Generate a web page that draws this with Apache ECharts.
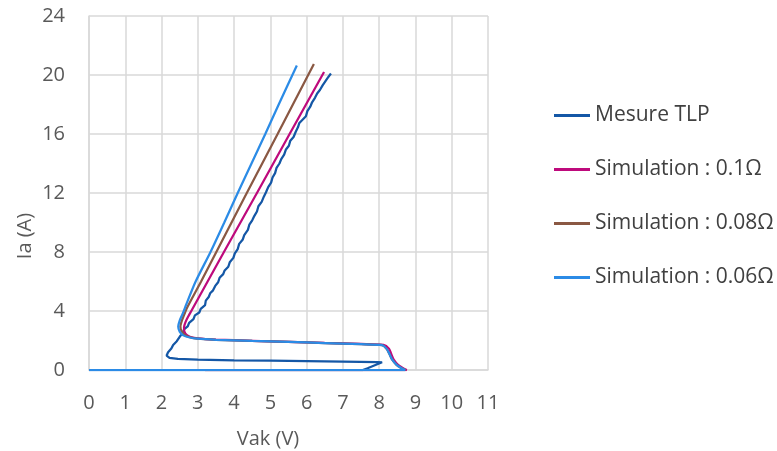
<!DOCTYPE html>
<html>
<head>
<meta charset="utf-8">
<script src="https://cdn.jsdelivr.net/npm/echarts@6/dist/echarts.min.js"></script>
<style>html,body{margin:0;padding:0;background:#fff;}#c{width:777px;height:451px;}</style>
</head>
<body>
<div id="c"></div>
<script>
const seriesNames = ['Mesure TLP', 'Simulation : 0.1Ω', 'Simulation : 0.08Ω', 'Simulation : 0.06Ω'];
const xTicks = [0, 11, 1];
const yTicks = [0, 24, 4];

const mesureTLP = [[0,0],[7.55,0],[7.68,0.12],[7.88,0.32],[8.08,0.52],[7.95,0.54],[7.0,0.57],[6.0,0.6],[5.0,0.63],[4.0,0.66],[3.0,0.71],[2.45,0.76],[2.22,0.82],[2.14,0.98],[2.18,1.2],[2.27,1.45],[2.32,1.7],[2.42,1.95],[2.5,2.25],[2.58,2.5],[2.62,2.75],[2.72,2.95],[2.76,3.2],[2.88,3.45],[2.92,3.7],[3.04,3.9],[3.08,4.15],[3.2,4.4],[3.22,4.7],[3.3,4.95],[3.34,5.2],[3.42,5.4],[3.48,5.7],[3.56,5.95],[3.6,6.25],[3.7,6.5],[3.74,6.75],[3.84,7.0],[3.88,7.3],[3.98,7.6],[4.02,7.9],[4.1,8.2],[4.14,8.55],[4.24,8.85],[4.28,9.15],[4.38,9.5],[4.42,9.85],[4.5,10.15],[4.56,10.45],[4.63,10.75],[4.67,11.1],[4.76,11.4],[4.82,11.75],[4.88,12.05],[4.94,12.4],[5.02,12.7],[5.06,13.05],[5.13,13.35],[5.17,13.7],[5.25,14.0],[5.3,14.3],[5.38,14.6],[5.43,14.95],[5.51,15.2],[5.55,15.55],[5.64,15.8],[5.7,16.15],[5.76,16.45],[5.8,16.75],[5.9,17.0],[5.98,17.2],[6.02,17.55],[6.1,17.85],[6.15,18.15],[6.23,18.45],[6.29,18.75],[6.37,19.0],[6.44,19.3],[6.51,19.55],[6.58,19.8],[6.67,20.1]];

const sim010 = [[3.2,0],[8.76,0],[8.66,0.12],[8.52,0.35],[8.4,0.7],[8.33,1.1],[8.27,1.45],[8.12,1.7],[7.5,1.77],[6.5,1.84],[5.5,1.91],[4.5,1.98],[3.5,2.06],[3.0,2.14],[2.8,2.24],[2.69,2.38],[2.63,2.6],[2.62,2.9],[2.66,3.25],[2.74,3.65],[2.82,4.0],[3.27,6.0],[3.72,8.0],[4.63,12.0],[5.53,16.0],[6.48,20.2]];

const sim008 = [[3.2,0],[8.72,0],[8.62,0.12],[8.48,0.35],[8.36,0.7],[8.28,1.1],[8.2,1.45],[8.08,1.68],[7.5,1.75],[6.5,1.83],[5.5,1.9],[4.5,1.97],[3.5,2.05],[3.0,2.12],[2.78,2.22],[2.64,2.38],[2.55,2.65],[2.52,2.95],[2.56,3.35],[2.64,3.85],[2.72,4.3],[3.09,6.0],[3.51,8.0],[4.35,12.0],[5.2,16.0],[6.2,20.75]];

const sim006 = [[0,0],[8.72,0],[8.62,0.12],[8.48,0.35],[8.36,0.7],[8.28,1.1],[8.2,1.45],[8.08,1.68],[7.5,1.75],[6.5,1.83],[5.5,1.9],[4.5,1.97],[3.5,2.05],[3.0,2.12],[2.75,2.22],[2.6,2.35],[2.5,2.6],[2.46,2.95],[2.5,3.35],[2.58,3.8],[2.69,4.5],[2.94,6.0],[3.35,8.0],[3.73,10.0],[4.1,12.0],[4.48,14.0],[4.86,16.0],[5.23,18.0],[5.73,20.65]];

const colors = ['#1457A6', '#BE0A7C', '#8A5843', '#2B8BE6'];
const datasets = [mesureTLP, sim010, sim008, sim006];
const FONT = '"Open Sans", "Liberation Sans", sans-serif';

const chart = echarts.init(document.getElementById('c'), null, {renderer: 'canvas'});
chart.setOption({
  animation: false,
  backgroundColor: '#ffffff',
  color: colors,
  grid: {left: 89, right: 289, top: 16, bottom: 81},
  xAxis: {
    type: 'value', min: xTicks[0], max: xTicks[1], interval: xTicks[2],
    axisLine: {show: true, lineStyle: {color: '#d9d9d9', width: 1.5}},
    axisTick: {show: false},
    splitLine: {show: true, lineStyle: {color: '#d9d9d9', width: 1.5}},
    axisLabel: {fontSize: 20, color: '#595959', fontFamily: FONT, margin: 23}
  },
  yAxis: {
    type: 'value', min: yTicks[0], max: yTicks[1], interval: yTicks[2],
    axisLine: {show: true, lineStyle: {color: '#d9d9d9', width: 1.5}},
    axisTick: {show: false},
    splitLine: {show: true, lineStyle: {color: '#d9d9d9', width: 1.5}},
    axisLabel: {fontSize: 20, color: '#595959', fontFamily: FONT, margin: 24}
  },
  legend: {
    orient: 'vertical', left: 549, top: 100,
    itemWidth: 36, itemHeight: 3, itemGap: 33, icon: 'rect',
    textStyle: {fontSize: 21, color: '#404040', fontFamily: FONT},
    data: seriesNames
  },
  graphic: [
    {type: 'text', x: 268, y: 439, style: {text: 'Vak (V)', font: '20px ' + FONT, fill: '#595959', textAlign: 'center', textVerticalAlign: 'middle'}},
    {type: 'text', x: 25, y: 236, rotation: Math.PI / 2, style: {text: 'Ia (A)', font: '20px ' + FONT, fill: '#595959', textAlign: 'center', textVerticalAlign: 'middle'}}
  ],
  series: datasets.map((d, i) => ({
    name: seriesNames[i], type: 'line', data: d, symbol: 'none', smooth: i === 0 ? false : 0.25,
    lineStyle: {width: 2.25, color: colors[i]}, z: 2 + i
  }))
});
</script>
</body>
</html>
